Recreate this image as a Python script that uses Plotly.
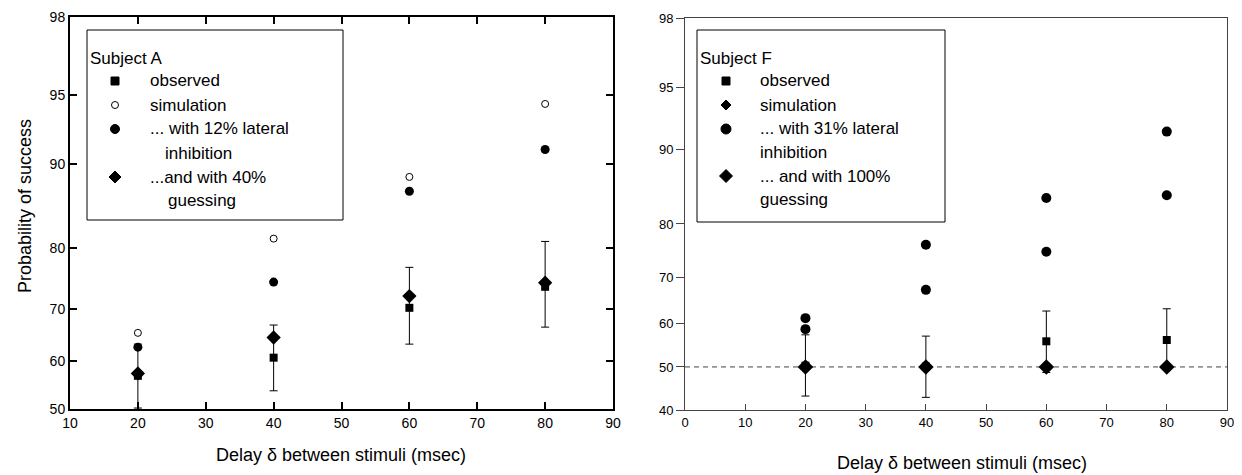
from statistics import NormalDist
import plotly.graph_objects as go

# ---------------- data ----------------
delays = [20, 40, 60, 80]

# Subject A (percent correct)
a_observed = [56.9, 60.6, 70.2, 73.9]
a_obs_upper = [63.3, 67.0, 77.1, 81.0]
a_obs_lower = [50.2, 53.8, 63.3, 66.6]
a_simulation = [65.5, 81.4, 88.8, 94.5]
a_inhibition = [62.7, 74.7, 87.3, 91.3]
a_guessing = [57.4, 64.6, 72.3, 74.6]

# Subject F (percent correct)
f_observed = [50.3, 50.1, 56.0, 56.3]
f_obs_upper = [57.5, 57.2, 62.9, 63.4]
f_obs_lower = [43.2, 42.9, 48.7, 49.3]
f_simulation = [61.3, 76.4, 84.0, 91.7]
f_inhibition = [58.8, 67.5, 75.1, 84.4]
f_guessing = [50.0, 50.0, 50.0, 50.0]
chance_level = 50

a_yticks = [50, 60, 70, 80, 90, 95, 98]
f_yticks = [40, 50, 60, 70, 80, 90, 95, 98]
a_xticks = [10, 20, 30, 40, 50, 60, 70, 80, 90]
f_xticks = [0, 10, 20, 30, 40, 50, 60, 70, 80, 90]
f_minor_xticks = [5, 15, 25, 35, 45, 55, 65, 75, 85]

# page body has an 8px margin; figure sized to fill the rest of the window
OFF = 8
W, H = 1242 - OFF, 475 - OFF
ND = NormalDist()


def z(p):
    return ND.inv_cdf(p / 100.0)


def zs(vals):
    return [z(v) for v in vals]


def px(x):
    return (x - OFF) / W


def py(y):
    return 1 - (y - OFF) / H


FONT = "Arial, Liberation Sans, sans-serif"
BLACK = "#000000"
GRAY = "#444444"

fig = go.Figure()


def add_panel(xa, ya, obs, up, lo, sim, inh, gue, sim_sym, sizes):
    zo = zs(obs)
    err_p = [z(u) - v for u, v in zip(up, zo)]
    err_m = [v - z(l) for l, v in zip(lo, zo)]
    fig.add_trace(go.Scatter(
        x=delays, y=zo, mode="markers", xaxis=xa, yaxis=ya, showlegend=False,
        name="observed",
        marker=dict(symbol="square", size=sizes["sq"], color=BLACK),
        error_y=dict(type="data", symmetric=False, array=err_p, arrayminus=err_m,
                     color=BLACK, thickness=1, width=4)))
    fig.add_trace(go.Scatter(
        x=delays, y=zs(sim), mode="markers", xaxis=xa, yaxis=ya, showlegend=False,
        name="simulation", marker=sim_sym))
    fig.add_trace(go.Scatter(
        x=delays, y=zs(inh), mode="markers", xaxis=xa, yaxis=ya, showlegend=False,
        name="lateral inhibition",
        marker=dict(symbol="circle", size=sizes["ci"], color=BLACK)))
    fig.add_trace(go.Scatter(
        x=delays, y=zs(gue), mode="markers", xaxis=xa, yaxis=ya, showlegend=False,
        name="guessing",
        marker=dict(symbol="diamond", size=sizes["di"], color=BLACK)))


# Left panel (Subject A)
add_panel("x", "y", a_observed, a_obs_upper, a_obs_lower, a_simulation,
          a_inhibition, a_guessing,
          dict(symbol="circle-open", size=7, color=BLACK, line=dict(width=1, color=BLACK)),
          dict(sq=8, ci=9, di=11))

# Right panel (Subject F): chance line first
fig.add_trace(go.Scatter(
    x=[f_xticks[0], f_xticks[-1]], y=[z(chance_level)] * 2, mode="lines",
    xaxis="x2", yaxis="y2", showlegend=False, name="chance",
    line=dict(color=GRAY, width=1, dash="5px,4px")))
add_panel("x2", "y2", f_observed, f_obs_upper, f_obs_lower, f_simulation,
          f_inhibition, f_guessing,
          dict(symbol="circle", size=10, color=BLACK),
          dict(sq=8, ci=10, di=12))

tickfont_a = dict(family=FONT, size=14, color=BLACK)
tickfont_f = dict(family=FONT, size=13, color=BLACK)

fig.update_layout(
    width=W, height=H, margin=dict(l=0, r=0, t=0, b=0),
    paper_bgcolor="white", plot_bgcolor="rgba(0,0,0,0)", showlegend=False,
    font=dict(family=FONT, color=BLACK),
    xaxis=dict(domain=[px(70), px(613)], range=[10, 90], tickvals=a_xticks,
               ticks="inside", ticklen=7, tickwidth=2, tickcolor=BLACK,
               showline=True, linewidth=2, linecolor=BLACK, mirror="allticks",
               showgrid=False, zeroline=False, tickfont=tickfont_a,
               automargin=False, anchor="y"),
    yaxis=dict(domain=[py(409), py(17)], range=[z(50), z(98)],
               tickvals=zs(a_yticks), ticktext=[str(v) for v in a_yticks],
               ticks="inside", ticklen=7, tickwidth=2, tickcolor=BLACK,
               showline=True, linewidth=2, linecolor=BLACK, mirror="allticks",
               showgrid=False, zeroline=False, tickfont=tickfont_a,
               automargin=False, anchor="x"),
    xaxis2=dict(domain=[px(685), px(1227)], range=[0, 90], tickvals=f_xticks,
                ticks="inside", ticklen=6, tickwidth=1, tickcolor=GRAY,
                showline=True, linewidth=1, linecolor=GRAY, mirror=True,
                showgrid=False, zeroline=False, tickfont=tickfont_f,
                automargin=False, anchor="y2"),
    yaxis2=dict(domain=[py(410), py(18)], range=[z(40), z(98)],
                tickvals=zs(f_yticks), ticktext=[str(v) for v in f_yticks],
                ticks="outside", ticklen=8, tickwidth=1, tickcolor=GRAY,
                showline=True, linewidth=1, linecolor=GRAY, mirror=True,
                showgrid=False, zeroline=False, tickfont=tickfont_f,
                automargin=False, anchor="x2"),
    xaxis3=dict(overlaying="x2", side="top", anchor="y2", range=[0, 90],
                tickvals=f_xticks, ticks="inside", ticklen=6, tickwidth=1,
                tickcolor=GRAY, showticklabels=False, showline=False,
                showgrid=False, zeroline=False,
                minor=dict(tickvals=f_minor_xticks, ticks="inside", ticklen=3,
                           tickwidth=1, tickcolor=GRAY, showgrid=False),
                automargin=False),
    yaxis3=dict(overlaying="y2", side="right", anchor="x2", range=[z(40), z(98)],
                tickvals=zs(f_yticks), ticks="inside", ticklen=7, tickwidth=1,
                tickcolor=GRAY, showticklabels=False, showline=False,
                showgrid=False, zeroline=False, automargin=False),
)

# ---------- legend boxes with key symbols (paper coordinates) ----------
shapes = [
    dict(type="rect", xref="paper", yref="paper", x0=px(87), x1=px(343),
         y0=py(220), y1=py(30), line=dict(color=BLACK, width=1)),
    dict(type="rect", xref="paper", yref="paper", x0=px(697), x1=px(945),
         y0=py(222), y1=py(30), line=dict(color=BLACK, width=1)),
]


def key(kind, cx, cy, r, filled=True):
    fill = BLACK if filled else "white"
    if kind == "square":
        return dict(type="rect", xref="paper", yref="paper",
                    x0=px(cx - r), x1=px(cx + r), y0=py(cy + r), y1=py(cy - r),
                    fillcolor=fill, line=dict(color=BLACK, width=1))
    if kind == "circle":
        return dict(type="circle", xref="paper", yref="paper",
                    x0=px(cx - r), x1=px(cx + r), y0=py(cy + r), y1=py(cy - r),
                    fillcolor=fill, line=dict(color=BLACK, width=1))
    # diamond
    path = (f"M {px(cx)} {py(cy - r)} L {px(cx + r)} {py(cy)} "
            f"L {px(cx)} {py(cy + r)} L {px(cx - r)} {py(cy)} Z")
    return dict(type="path", xref="paper", yref="paper", path=path,
                fillcolor=fill, line=dict(color=BLACK, width=1))


legend_keys = [
    ("square", 115, 81, 4, True), ("circle", 115, 105, 3.5, False),
    ("circle", 115, 129, 4.5, True), ("diamond", 115, 177, 6, True),
    ("square", 726, 81, 4, True), ("diamond", 726, 105, 5, True),
    ("circle", 726, 129, 5, True), ("diamond", 726, 176, 6.5, True),
]
for k in legend_keys:
    shapes.append(key(*k))
fig.update_layout(shapes=shapes)

leg_font = dict(family=FONT, size=17, color=BLACK)
texts = [
    ("Subject A", 88, 58), ("observed", 148, 81), ("simulation", 148, 105),
    ("... with 12% lateral", 148, 129), ("inhibition", 163, 153),
    ("...and with 40%", 148, 177), ("guessing", 166, 200),
    ("Subject F", 698, 58), ("observed", 758, 81), ("simulation", 758, 105),
    ("... with 31% lateral", 758, 129), ("inhibition", 758, 152),
    ("... and with 100%", 758, 176), ("guessing", 758, 199),
]
ann = []
for t, x, y in texts:
    ann.append(dict(text=t, x=px(x), y=py(y), xref="paper", yref="paper",
                    xanchor="left", yanchor="middle", showarrow=False,
                    font=leg_font))
title_font = dict(family=FONT, size=18, color=BLACK)
ann.append(dict(text="Delay δ between stimuli (msec)", x=px(341), y=py(455),
                xref="paper", yref="paper", xanchor="center", yanchor="middle",
                showarrow=False, font=title_font))
ann.append(dict(text="Delay δ between stimuli (msec)", x=px(962), y=py(463),
                xref="paper", yref="paper", xanchor="center", yanchor="middle",
                showarrow=False, font=title_font))
ann.append(dict(text="Probability of success", x=px(25), y=py(206),
                xref="paper", yref="paper", xanchor="center", yanchor="middle",
                textangle=-90, showarrow=False, font=title_font))
fig.update_layout(annotations=ann)

fig.write_html("out.html")
